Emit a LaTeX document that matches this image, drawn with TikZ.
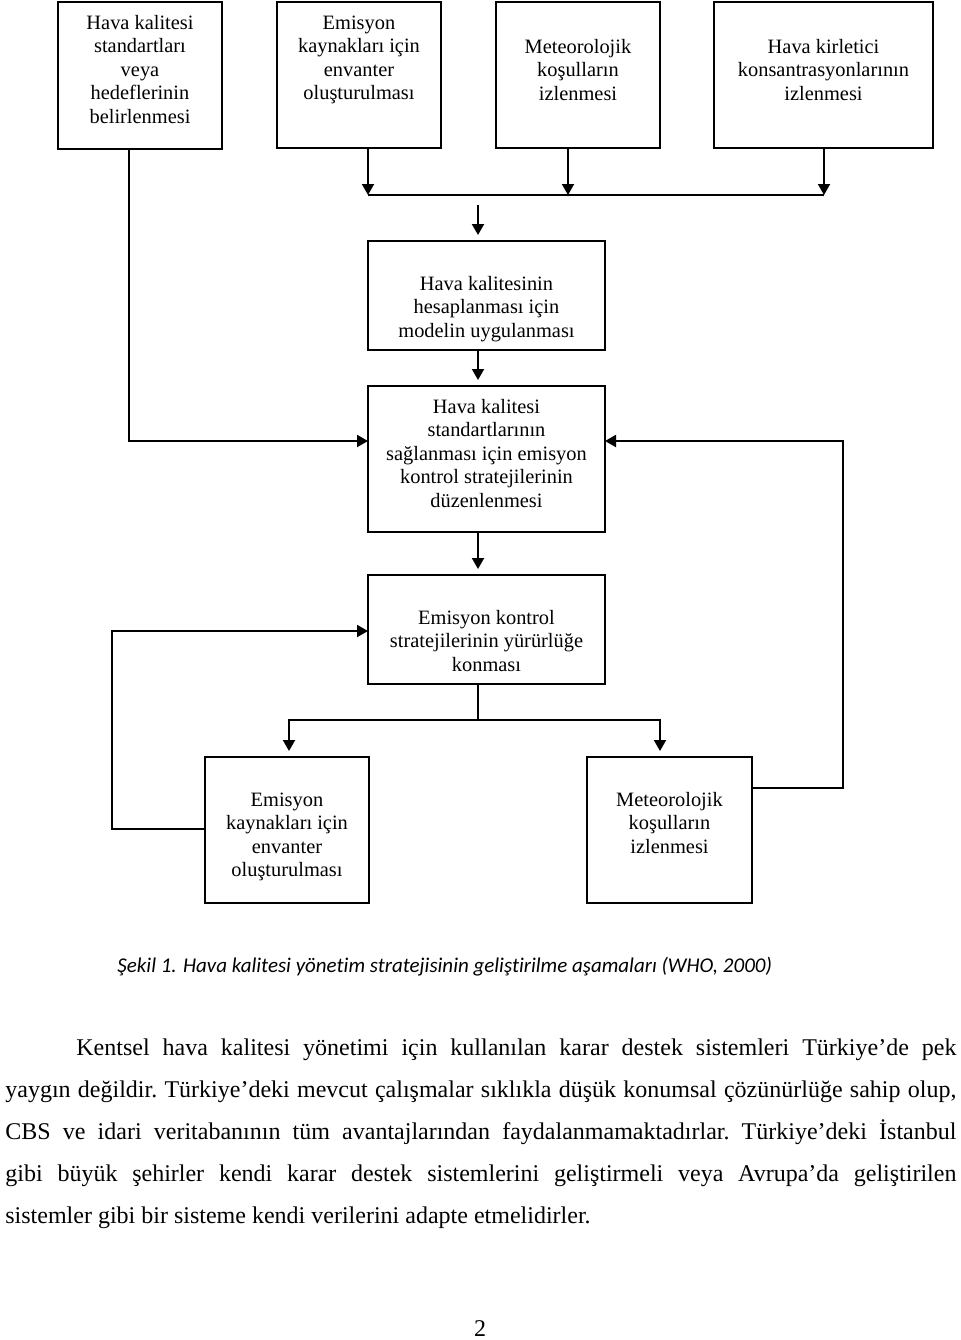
\documentclass[tikz,border=0pt]{standalone}
\usepackage{fontspec}
\setmainfont{Liberation Serif}
\newfontfamily\capfont[Ligatures=NoCommon]{Carlito}
\usetikzlibrary{arrows.meta, positioning, calc}

% box text: width, height, first baseline (all in px), lines
\newcommand\stagetext[4]{%
    \parbox[t][\dimexpr#2pt/2\relax][t]{\dimexpr#1pt/2\relax}{\centering
    \vspace*{\dimexpr#3pt/2-\ht\strutbox\relax}\strut#4\par}}

\tikzset{
    box/.style={draw, line width=1pt, inner sep=0pt, outer sep=0pt, anchor=north west,
        font=\fontsize{10.2}{11.75}\selectfont},
    flow/.style={line width=1pt, -{Triangle[length=5.5pt,width=6pt]}},
    link/.style={line width=1pt},
    gap/.style={shorten >=3pt}
}

\begin{document}
\begin{tikzpicture}[x=0.5pt, y=-0.5pt]
    \useasboundingbox (0,0) rectangle (960,1340);
    % first row
    \node[box] (goals) at (58,2) {\stagetext{164}{147}{27}{Hava kalitesi\\standartları\\veya\\hedeflerinin\\belirlenmesi}};
    \node[box] (inv) at (277,2) {\stagetext{164}{146}{27}{Emisyon\\kaynakları için\\envanter\\oluşturulması}};
    \node[box] (met) at (496,2) {\stagetext{164}{146}{51}{Meteorolojik\\koşulların\\izlenmesi}};
    \node[box] (conc) at (714,2) {\stagetext{219}{146}{51}{Hava kirletici\\konsantrasyonlarının\\izlenmesi}};
    % middle column
    \node[box] (model) at (368,241) {\stagetext{237}{109}{49}{Hava kalitesinin\\hesaplanması için\\modelin uygulanması}};
    \node[box] (strat) at (368,386) {\stagetext{237}{146}{27}{Hava kalitesi\\standartlarının\\sağlanması için emisyon\\kontrol stratejilerinin\\düzenlenmesi}};
    \node[box] (enf) at (368,575) {\stagetext{237}{109}{49}{Emisyon kontrol\\stratejilerinin yürürlüğe\\konması}};
    % last row
    \node[box] (inv2) at (205,757) {\stagetext{164}{146}{49}{Emisyon\\kaynakları için\\envanter\\oluşturulması}};
    \node[box] (met2) at (587,757) {\stagetext{165}{146}{49}{Meteorolojik\\koşulların\\izlenmesi}};

    \coordinate (bus) at (0,195);
    \coordinate (feed) at (478,205);
    \coordinate (split) at (478,720);

    \draw[flow] (368,0 |- inv.south) -- (368,0 |- bus);
    \draw[flow] (568,0 |- met.south) -- (568,0 |- bus);
    \draw[flow] (824,0 |- conc.south) -- (824,0 |- bus);
    \draw[link] (368,0 |- bus) -- (824,0 |- bus);
    \draw[flow, gap] (feed) -- (feed |- model.north);
    \draw[flow, gap] (478,0 |- model.south) -- (478,0 |- strat.north);
    \draw[flow] (129,0 |- goals.south) |- (strat.west |- 0,441);
    \draw[flow] (met2.east |- 0,788) -| (843,441) -- (strat.east |- 0,441);
    \draw[flow, gap] (478,0 |- strat.south) -- (478,0 |- enf.north);
    \draw[link] (478,0 |- enf.south) -- (split);
    \draw[flow, gap] (split) -| (289,0 |- inv2.north);
    \draw[flow, gap] (split) -| (660,0 |- met2.north);
    \draw[flow] (inv2.west |- 0,829) -| (112,631) -- (enf.west |- 0,631);

    \node[anchor=base west, inner sep=0pt, font=\capfont\itshape\fontsize{10.5}{13}\selectfont] (caption) at (117,972)
        {Şekil 1. Hava kalitesi yönetim stratejisinin geliştirilme aşamaları (WHO, 2000)};
    \node[anchor=north west, inner sep=0pt, text width=475.5pt, align=justify,
        font=\fontsize{12}{21}\selectfont\frenchspacing] (body) at (5,1038)
        {\hspace*{35.5pt}Kentsel hava kalitesi yönetimi için kullanılan karar destek sistemleri Türkiye’de pek\linebreak
        yaygın değildir. Türkiye’deki mevcut çalışmalar sıklıkla düşük konumsal çözünürlüğe sahip olup,\linebreak
        CBS ve idari veritabanının tüm avantajlarından faydalanmamaktadırlar. Türkiye’deki İstanbul\linebreak
        gibi büyük şehirler kendi karar destek sistemlerini geliştirmeli veya Avrupa’da geliştirilen\linebreak
        sistemler gibi bir sisteme kendi verilerini adapte etmelidirler.};
    \node[anchor=base, inner sep=0pt, font=\fontsize{12}{14}\selectfont] (page) at (480,1336) {2};
\end{tikzpicture}
\end{document}
